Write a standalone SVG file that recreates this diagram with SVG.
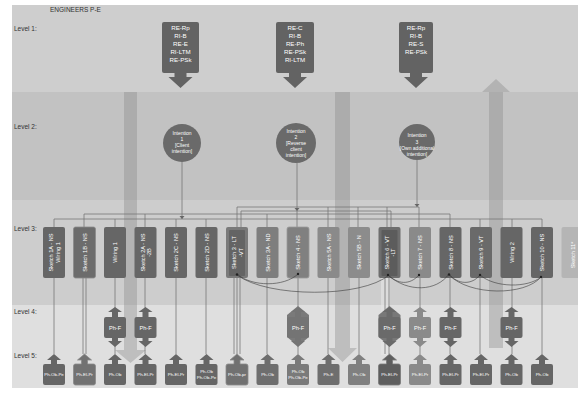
<svg xmlns="http://www.w3.org/2000/svg" xmlns:xlink="http://www.w3.org/1999/xlink" width="578" height="396" viewBox="0 0 578 396">
<style>
.lbl{font-family:"Liberation Sans",Arial,sans-serif;font-size:6.5px;fill:#333}
.t{font-family:"Liberation Sans",Arial,sans-serif;fill:#fff;text-anchor:middle}
.t1{font-size:6.2px}
.t2{font-size:5px}
.t3{font-size:5.6px}
.t5{font-size:4.4px}
.ln{stroke:#767676;stroke-width:0.8;fill:none}
.cv{stroke:#3a3a3a;stroke-width:0.6;fill:none}
.big{fill:#8a8a8a;opacity:0.38}
</style>
<defs>
<path id="l5" d="M0,354 L7,360 L3,360 L3,364 L9,364 Q11,364 11,366 L11,383 Q11,385 9,385 L-9,385 Q-11,385 -11,383 L-11,366 Q-11,364 -9,364 L-3,364 L-3,360 L-7,360 Z"/>
<path id="l4" d="M0,307 L7,312 L3,312 L3,317 L9,317 Q11,317 11,319 L11,336 Q11,338 9,338 L3,338 L3,341 L7,341 L0,347 L-7,341 L-3,341 L-3,338 L-9,338 Q-11,338 -11,336 L-11,319 Q-11,317 -9,317 L-3,317 L-3,312 L-7,312 Z"/>
<path id="l4h" d="M0,306 L11,315 L11,337 L0,346 L-11,337 L-11,315 Z"/>
<path id="l1a" d="M-6,73 L6,73 L6,77 L12,77 L0,88 L-12,77 L-6,77 Z"/>
</defs>
<rect x="0" y="0" width="578" height="396" fill="#fff"/>
<rect x="12" y="5" width="566" height="87" fill="#cecece"/>
<rect x="12" y="92" width="566" height="108" fill="#c2c2c2"/>
<rect x="12" y="200" width="566" height="105" fill="#cdcdcd"/>
<rect x="12" y="305" width="566" height="83" fill="#dfdfdf"/>
<text class="lbl" x="50" y="12" font-size="7">ENGINEERS P-E</text>
<text class="lbl" x="14" y="31">Level 1:</text>
<text class="lbl" x="14" y="129">Level 2:</text>
<text class="lbl" x="14" y="231">Level 3:</text>
<text class="lbl" x="14" y="314">Level 4:</text>
<text class="lbl" x="14" y="358">Level 5:</text>
<g id="flow-arrows">
<polygon class="big" points="124,92 137,92 137,350 146,350 130.5,363 115,350 124,350"/>
<polygon class="big" points="335,92 350,92 350,348 357,348 342.5,362 328,348 335,348"/>
<polygon class="big" points="496,79 510,92 503,92 503,348 489,348 489,92 482,92"/>
</g>
<g id="level1">
<g id="l1-1" fill="#636363"><rect x="162" y="22" width="37" height="51" rx="2"/><use href="#l1a" x="180.5"/>
<text class="t t1" x="180.5" y="30">RE-Rp</text><text class="t t1" x="180.5" y="38">RI-B</text><text class="t t1" x="180.5" y="46">RE-E</text><text class="t t1" x="180.5" y="54">RI-LTM</text><text class="t t1" x="180.5" y="62">RE-PSk</text></g>
<g id="l1-2" fill="#636363"><rect x="276" y="22" width="38" height="51" rx="2"/><use href="#l1a" x="295"/>
<text class="t t1" x="295" y="30">RE-C</text><text class="t t1" x="295" y="38">RI-B</text><text class="t t1" x="295" y="46">RE-Ph</text><text class="t t1" x="295" y="54">RE-PSk</text><text class="t t1" x="295" y="62">RI-LTM</text></g>
<g id="l1-3" fill="#636363"><rect x="399" y="22" width="34" height="51" rx="2"/><use href="#l1a" x="416"/>
<text class="t t1" x="416" y="30">RE-Rp</text><text class="t t1" x="416" y="38">RI-B</text><text class="t t1" x="416" y="46">RE-S</text><text class="t t1" x="416" y="54">RE-PSk</text></g>
</g>
<g id="connectors">
<line class="ln" x1="182" y1="162" x2="182" y2="219"/>
<line class="ln" x1="297" y1="163" x2="297" y2="227"/>
<line class="ln" x1="417" y1="160" x2="417" y2="207"/>
<polyline class="ln" points="237,227 237,207 419,207 419,227"/>
<line class="ln" x1="328" y1="207" x2="328" y2="227"/>
<line class="ln" x1="358" y1="207" x2="358" y2="227"/>
<line class="ln" x1="387" y1="207" x2="387" y2="227"/>
<polyline class="ln" points="241,227 241,211 391,211 391,227"/>
<polyline class="ln" points="84,227 84,214 450,214 450,227"/>
<line class="ln" x1="145" y1="214" x2="145" y2="227"/>
<line class="ln" x1="267" y1="214" x2="267" y2="227"/>
<polyline class="ln" points="54,227 54,219 542,219 542,227"/>
<line class="ln" x1="115" y1="219" x2="115" y2="227"/>
<line class="ln" x1="176" y1="219" x2="176" y2="227"/>
<line class="ln" x1="206" y1="219" x2="206" y2="227"/>
<line class="ln" x1="480" y1="219" x2="480" y2="227"/>
<line class="ln" x1="512" y1="219" x2="512" y2="227"/>
<g fill="#666">
<polygon points="179.5,216 184.5,216 182,219"/>
<polygon points="294.5,208 299.5,208 297,211"/>
<polygon points="414.5,204 419.5,204 417,207"/>
</g>
<rect x="381" y="278" width="9" height="77" fill="#e6e6e6" opacity="0.6"/>
<line class="ln" x1="54" y1="278" x2="54" y2="354"/>
<line class="ln" x1="83" y1="278" x2="83" y2="354"/>
<line class="ln" x1="86" y1="278" x2="86" y2="354"/>
<line class="ln" x1="115" y1="278" x2="115" y2="354"/>
<line class="ln" x1="145" y1="278" x2="145" y2="354"/>
<line class="ln" x1="176" y1="278" x2="176" y2="354"/>
<line class="ln" x1="206" y1="278" x2="206" y2="354"/>
<line class="ln" x1="234" y1="278" x2="234" y2="354"/>
<line class="ln" x1="237" y1="278" x2="237" y2="354"/>
<line class="ln" x1="240" y1="278" x2="240" y2="354"/>
<line class="ln" x1="267" y1="278" x2="267" y2="354"/>
<line class="ln" x1="298" y1="278" x2="298" y2="354"/>
<line class="ln" x1="328" y1="278" x2="328" y2="354"/>
<line class="ln" x1="359" y1="278" x2="359" y2="354"/>
<line class="ln" x1="385" y1="278" x2="385" y2="354"/>
<line class="ln" x1="389" y1="278" x2="389" y2="354"/>
<line class="ln" x1="420" y1="278" x2="420" y2="354"/>
<line class="ln" x1="450" y1="278" x2="450" y2="354"/>
<line class="ln" x1="480" y1="278" x2="480" y2="354"/>
<line class="ln" x1="512" y1="278" x2="512" y2="354"/>
<line class="ln" x1="542" y1="278" x2="542" y2="354"/>
</g>
<g id="level2" fill="#6a6a6a">
<g id="int1"><circle cx="182" cy="143" r="19"/>
<text class="t t2" x="182" y="135">Intention</text><text class="t t2" x="182" y="141">1</text><text class="t t2" x="182" y="147">[Client</text><text class="t t2" x="182" y="153">intention]</text></g>
<g id="int2"><circle cx="296" cy="143" r="20"/>
<text class="t t2" x="296" y="133">Intention</text><text class="t t2" x="296" y="139">2</text><text class="t t2" x="296" y="145">[Reverse</text><text class="t t2" x="296" y="151">client</text><text class="t t2" x="296" y="157">intention]</text></g>
<g id="int3"><circle cx="417" cy="142" r="18"/>
<text class="t t2" x="417" y="137">Intention</text><text class="t t2" x="417" y="144">3</text><text class="t t2" x="417" y="150">[Own additional</text><text class="t t2" x="417" y="156">intention]</text></g>
</g>
<g id="level3">
<g id="s1"><rect x="43" y="227" width="22" height="51" rx="2" fill="#666"/><text class="t t3" transform="translate(54,252.5) rotate(-90)" y="-1">Sketch 1A - NS</text><text class="t t3" transform="translate(54,252.5) rotate(-90)" y="5.5">Wiring 1</text></g>
<g id="s2"><rect x="73.5" y="227" width="22" height="51" rx="2" fill="#6c6c6c" stroke="#8a8a8a" stroke-width="0.8"/><text class="t t3" transform="translate(84.5,252.5) rotate(-90)" y="2">Sketch 1B - NS</text></g>
<g id="s3"><rect x="104" y="227" width="22" height="51" rx="2" fill="#666"/><text class="t t3" transform="translate(115,252.5) rotate(-90)" y="2">Wiring 1</text></g>
<g id="s4"><rect x="134.5" y="227" width="22" height="51" rx="2" fill="#666"/><text class="t t3" transform="translate(145.5,252.5) rotate(-90)" y="-1">Sketch 2A - NS</text><text class="t t3" transform="translate(145.5,252.5) rotate(-90)" y="5.5">-2B</text></g>
<g id="s5"><rect x="165" y="227" width="22" height="51" rx="2" fill="#666"/><text class="t t3" transform="translate(176,252.5) rotate(-90)" y="2">Sketch 2C - NS</text></g>
<g id="s6"><rect x="195.5" y="227" width="22" height="51" rx="2" fill="#666"/><text class="t t3" transform="translate(206.5,252.5) rotate(-90)" y="2">Sketch 2D - NS</text></g>
<g id="s7"><rect x="226" y="227" width="22" height="51" rx="2" fill="#7a7a7a"/><rect x="229" y="230" width="16" height="46" rx="1" fill="#646464"/><text class="t t3" transform="translate(237,252.5) rotate(-90)" y="-1">Sketch 3 - LT</text><text class="t t3" transform="translate(237,252.5) rotate(-90)" y="5.5">-VT</text></g>
<g id="s8"><rect x="256.5" y="227" width="22" height="51" rx="2" fill="#7e7e7e"/><text class="t t3" transform="translate(267.5,252.5) rotate(-90)" y="2" font-size="5">Sketch 3A - ND</text></g>
<g id="s9"><rect x="287" y="227" width="22" height="51" rx="2" fill="#808080" stroke="#999" stroke-width="0.8"/><text class="t t3" transform="translate(298,252.5) rotate(-90)" y="2">Sketch 4 - NS</text></g>
<g id="s10"><rect x="317.5" y="227" width="22" height="51" rx="2" fill="#8a8a8a"/><text class="t t3" transform="translate(328.5,252.5) rotate(-90)" y="2">Sketch 5A - NS</text></g>
<g id="s11"><rect x="348" y="227" width="22" height="51" rx="2" fill="#8c8c8c"/><text class="t t3" transform="translate(359,252.5) rotate(-90)" y="2">Sketch 5B - N</text></g>
<g id="s12"><rect x="378.5" y="227" width="22" height="51" rx="2" fill="#6e6e6e"/><rect x="381.5" y="230" width="16" height="46" rx="1" fill="#5c5c5c"/><text class="t t3" transform="translate(389.5,252.5) rotate(-90)" y="-1">Sketch 6 - VT</text><text class="t t3" transform="translate(389.5,252.5) rotate(-90)" y="5.5">-LT</text></g>
<g id="s13"><rect x="409" y="227" width="22" height="51" rx="2" fill="#8a8a8a"/><text class="t t3" transform="translate(420,252.5) rotate(-90)" y="2">Sketch 7 - NS</text></g>
<g id="s14"><rect x="439.5" y="227" width="22" height="51" rx="2" fill="#666"/><text class="t t3" transform="translate(450.5,252.5) rotate(-90)" y="2">Sketch 8 - NS</text></g>
<g id="s15"><rect x="470" y="227" width="22" height="51" rx="2" fill="#6a6a6a"/><text class="t t3" transform="translate(481,252.5) rotate(-90)" y="2">Sketch 9 - VT</text></g>
<g id="s16"><rect x="500.5" y="227" width="22" height="51" rx="2" fill="#666"/><text class="t t3" transform="translate(511.5,252.5) rotate(-90)" y="2">Wiring 2</text></g>
<g id="s17"><rect x="531" y="227" width="22" height="51" rx="2" fill="#666"/><text class="t t3" transform="translate(542,252.5) rotate(-90)" y="2">Sketch 10 - NS</text></g>
<g id="s18"><rect x="561.5" y="227" width="22" height="51" rx="2" fill="#b5b5b5"/><text class="t t3" transform="translate(572.5,255) rotate(-90)" y="2">Sketch 11*</text></g>
</g>
<g id="links">
<path class="cv" d="M237,274 C252,287 284,287 298,274"/>
<path class="cv" d="M237,275 C268,298 362,298 389,275"/>
<path class="cv" d="M387,274 C398,285 410,285 419,275"/>
<path class="cv" d="M389,276 C408,292 436,292 449,274"/>
<path class="cv" d="M449,274 C458,285 472,285 480,275"/>
<path class="cv" d="M449,275 C470,296 525,296 541,277"/>
<path class="cv" d="M480,275 C495,288 528,288 541,277"/>
<g fill="#222"><circle cx="237" cy="274.5" r="1.2"/><circle cx="298" cy="274" r="1.2"/><circle cx="388" cy="275" r="1.2"/><circle cx="419" cy="275" r="1.2"/><circle cx="449" cy="274.5" r="1.2"/><circle cx="480" cy="275" r="1.2"/><circle cx="541" cy="277" r="1.2"/></g>
</g>
<g id="level4">
<g id="f3"><use href="#l4" x="115" fill="#666"/><text class="t t3" x="115" y="329.5">Ph-F</text></g>
<g id="f4"><use href="#l4" x="145.5" fill="#666"/><text class="t t3" x="145.5" y="329.5">Ph-F</text></g>
<g id="f9"><use href="#l4h" x="298" fill="#7a7a7a"/><use href="#l4" x="298" fill="#747474"/><text class="t t3" x="298" y="329.5">Ph-F</text></g>
<g id="f12"><use href="#l4h" x="389.5" fill="#787878"/><use href="#l4" x="389.5" fill="#6a6a6a"/><text class="t t3" x="389.5" y="329.5">Ph-F</text></g>
<g id="f13"><use href="#l4" x="420" fill="#8a8a8a"/><text class="t t3" x="420" y="329.5">Ph-F</text></g>
<g id="f14"><use href="#l4" x="450.5" fill="#666"/><text class="t t3" x="450.5" y="329.5">Ph-F</text></g>
<g id="f16"><use href="#l4" x="511.5" fill="#666"/><text class="t t3" x="511.5" y="329.5">Ph-F</text></g>
</g>
<g id="level5">
<g id="p1"><use href="#l5" x="54" fill="#666"/><text class="t t5" x="54" y="376">Ph-Ob-Pe</text></g>
<g id="p2"><use href="#l5" x="84.5" fill="#727272" stroke="#8a8a8a" stroke-width="0.8"/><text class="t t5" x="84.5" y="376">Ph-El-Pr</text></g>
<g id="p3"><use href="#l5" x="115" fill="#666"/><text class="t t5" x="115" y="376">Ph-Ob</text></g>
<g id="p4"><use href="#l5" x="145.5" fill="#666"/><text class="t t5" x="145.5" y="376">Ph-El-Pr</text></g>
<g id="p5"><use href="#l5" x="176" fill="#666"/><text class="t t5" x="176" y="376">Ph-El-Pr</text></g>
<g id="p6"><use href="#l5" x="206.5" fill="#666"/><text class="t t5" x="206.5" y="373">Ph-Ob</text><text class="t t5" x="206.5" y="379">Ph-Ob-Pe</text></g>
<g id="p7"><use href="#l5" x="237" fill="#717171" stroke="#8a8a8a" stroke-width="0.8"/><text class="t t5" x="237" y="376">Ph-Ob-pr</text></g>
<g id="p8"><use href="#l5" x="267.5" fill="#6e6e6e"/><text class="t t5" x="267.5" y="376">Ph-Ob</text></g>
<g id="p9"><use href="#l5" x="298" fill="#7a7a7a"/><text class="t t5" x="298" y="373">Ph-Ob</text><text class="t t5" x="298" y="379">Ph-Ob-Pe</text></g>
<g id="p10"><use href="#l5" x="328.5" fill="#6e6e6e"/><text class="t t5" x="328.5" y="376">Ph-E</text></g>
<g id="p11"><use href="#l5" x="359" fill="#808080"/><text class="t t5" x="359" y="376">Ph-Ob</text></g>
<g id="p12"><use href="#l5" x="389.5" fill="#5e5e5e" stroke="#7a7a7a" stroke-width="0.8"/><text class="t t5" x="389.5" y="376">Ph-El-Pr</text></g>
<g id="p13"><use href="#l5" x="420" fill="#8a8a8a"/><text class="t t5" x="420" y="376">Ph-El-Pr</text></g>
<g id="p14"><use href="#l5" x="450.5" fill="#666"/><text class="t t5" x="450.5" y="376">Ph-El-Pr</text></g>
<g id="p15"><use href="#l5" x="481" fill="#666"/><text class="t t5" x="481" y="376">Ph-El-Pr</text></g>
<g id="p16"><use href="#l5" x="511.5" fill="#666"/><text class="t t5" x="511.5" y="376">Ph-Ob</text></g>
<g id="p17"><use href="#l5" x="542" fill="#666"/><text class="t t5" x="542" y="376">Ph-Ob</text></g>
</g>
</svg>
